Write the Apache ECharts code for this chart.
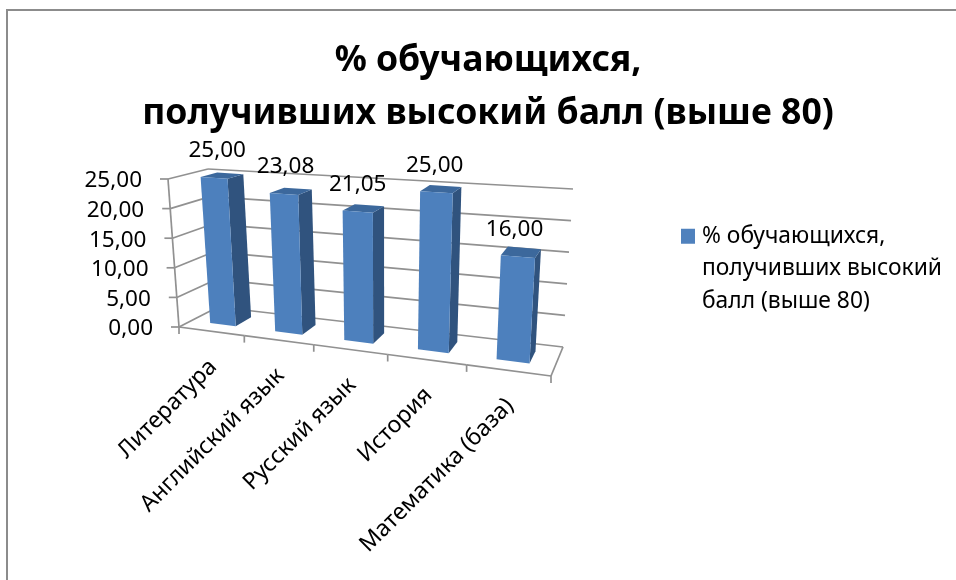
<!DOCTYPE html>
<html>
<head>
<meta charset="utf-8">
<style>html,body{margin:0;padding:0;background:#fff}#c{width:956px;height:580px}</style>
<script src="https://cdn.jsdelivr.net/npm/echarts@6/dist/echarts.min.js"></script>
</head>
<body>
<div id="c"></div>
<script>
const categories = ['Литература', 'Английский язык', 'Русский язык', 'История', 'Математика (база)'];
const values = [25, 23.08, 21.05, 25, 16];
const valueLabels = ['25,00', '23,08', '21,05', '25,00', '16,00'];
const yTicks = [0, 5, 10, 15, 20, 25];
const yTickLabels = ['0,00', '5,00', '10,00', '15,00', '20,00', '25,00'];
const seriesName = '% обучающихся, получивших высокий балл (выше 80)';
const legendLines = ['% обучающихся,', 'получивших высокий', 'балл (выше 80)'];

const FONT = '"Noto Sans", sans-serif';
const FS = 22.5;
const GRID = '#919191';

// view of the box: [right-left, value, depth] corners on the page
const VIEW = {
  fb0: [179, 327], fb1: [551, 376], bb0: [218, 307], bb1: [563, 347],
  ft0: [168, 179], ft1: [561, 206], bt0: [208, 169], bt1: [573, 189]
};
const KS = 0.852;
function lerp(a, b, t) { return [a[0] + (b[0] - a[0]) * t, a[1] + (b[1] - a[1]) * t]; }
function project(u, v, d) {
  const s = KS * u / (1 + (KS - 1) * u);
  const fb = lerp(VIEW.fb0, VIEW.fb1, s), bb = lerp(VIEW.bb0, VIEW.bb1, s);
  const ft = lerp(VIEW.ft0, VIEW.ft1, s), bt = lerp(VIEW.bt0, VIEW.bt1, s);
  return lerp(lerp(fb, ft, v), lerp(bb, bt, v), d);
}
// plot fractions from the chart's own scales
function frac(params, api, cat, val) {
  const p = api.coord([cat, val]), r = params.coordSys;
  return [(p[0] - r.x) / r.width, 1 - (p[1] - r.y) / r.height];
}
function seg(a, b) {
  return { type: 'line', shape: { x1: a[0], y1: a[1], x2: b[0], y2: b[1] },
    style: { stroke: GRID, lineWidth: 1.7, fill: null } };
}
function poly(pts, color) {
  return { type: 'polygon', shape: { points: pts }, style: { fill: color, stroke: null } };
}

function renderValueGrid(params, api) {
  const val = api.value(1), i = params.dataIndex;
  const v = frac(params, api, 0, val)[1];
  const f = project(0, v, 0), b = project(0, v, 1), r = project(1, v, 1);
  const kids = [seg(f, b), seg(b, r), seg([f[0] - 8, f[1]], f)];
  if (i > 0) {
    const pv = frac(params, api, 0, yTicks[i - 1])[1];
    kids.push(seg(project(0, pv, 0), f));
  }
  kids.push({ type: 'text', style: { text: yTickLabels[i], x: f[0] - 26, y: f[1] + 2,
    align: 'right', verticalAlign: 'middle', fontSize: FS, fontFamily: FONT, fill: '#000' } });
  return { type: 'group', children: kids };
}

function renderFloor(params, api) {
  const i = api.value(0);
  const c = frac(params, api, i, 0);
  const half = api.size([1, 0])[0] / params.coordSys.width / 2;
  const u0 = c[0] - half, u1 = c[0] + half;
  const a = project(u0, 0, 0), b = project(u1, 0, 0), m = project(c[0], 0, 0);
  const kids = [seg(a, b), seg(a, [a[0], a[1] + 7])];
  if (i === categories.length - 1) {
    kids.push(seg(b, [b[0], b[1] + 7]), seg(b, project(u1, 0, 1)));
  }
  kids.push({ type: 'text', x: m[0] + 2, y: m[1] + 32, rotation: Math.PI / 4,
    style: { text: categories[i], align: 'right', verticalAlign: 'middle',
      fontSize: 23, fontFamily: FONT, fill: '#000' } });
  return { type: 'group', children: kids };
}

function renderBar(params, api) {
  const i = api.value(0), val = api.value(1);
  const c = frac(params, api, i, val), base = frac(params, api, i, 0);
  const half = 0.2 * api.size([1, 0])[0] / params.coordSys.width;
  const u0 = c[0] - half, u1 = c[0] + half, d0 = 0.32, d1 = 0.75;
  const v0 = base[1], v1 = c[1];
  const A = project(u0, v0, d0), B = project(u1, v0, d0), C = project(u1, v1, d0), D = project(u0, v1, d0);
  const E = project(u1, v0, d1), F = project(u1, v1, d1), G = project(u0, v1, d1);
  const tc = project(c[0], v1, d0);
  return { type: 'group', children: [
    poly([B, E, F, C], '#30537e'),
    poly([D, C, F, G], '#3c689c'),
    poly([A, B, C, D], '#4d80bd'),
    { type: 'text', style: { text: valueLabels[params.dataIndex], x: tc[0] + 4 - 8 * c[0], y: tc[1] - 27,
      align: 'center', verticalAlign: 'middle', fontSize: FS, fontFamily: FONT, fill: '#000' } }
  ] };
}

const chart = echarts.init(document.getElementById('c'), null, { renderer: 'canvas' });
chart.setOption({
  animation: false,
  backgroundColor: '#fff',
  title: {
    text: '% обучающихся,\nполучивших высокий балл (выше 80)',
    left: 483, top: 29, textAlign: 'center',
    textStyle: { fontFamily: FONT, fontSize: 35.6, fontWeight: 'bold', color: '#000', lineHeight: 53 }
  },
  legend: {
    left: 676, top: 150, orient: 'vertical', selectedMode: false,
    icon: 'rect', itemWidth: 14, itemHeight: 15, itemGap: 0,
    data: [seriesName],
    formatter: () => '\n\n' + legendLines.join('\n'),
    textStyle: { fontFamily: FONT, fontSize: 22.8, color: '#000', lineHeight: 32.5, padding: [0, 0, 0, 2] }
  },
  grid: { left: 100, top: 100, width: 500, height: 250 },
  xAxis: { type: 'category', data: categories, show: false },
  yAxis: { type: 'value', min: 0, max: 25, interval: 5, show: false },
  graphic: [{ type: 'rect', silent: true, shape: { x: 7, y: 10, width: 1000, height: 700 },
    style: { fill: null, stroke: '#8c8c8c', lineWidth: 2 }, z: 0 }],
  series: [
    { type: 'custom', name: 'Сетка', silent: true, z: 1, clip: false,
      data: yTicks.map(t => [0, t]), encode: { x: 0, y: 1 }, renderItem: renderValueGrid },
    { type: 'custom', name: 'Основание', silent: true, z: 2, clip: false,
      data: categories.map((c, i) => [i, 0]), encode: { x: 0, y: 1 }, renderItem: renderFloor },
    { type: 'custom', name: seriesName, silent: true, z: 3, clip: false,
      itemStyle: { color: '#4f81bd' },
      data: values.map((v, i) => [i, v]), encode: { x: 0, y: 1 }, renderItem: renderBar }
  ]
});
</script>
</body>
</html>
